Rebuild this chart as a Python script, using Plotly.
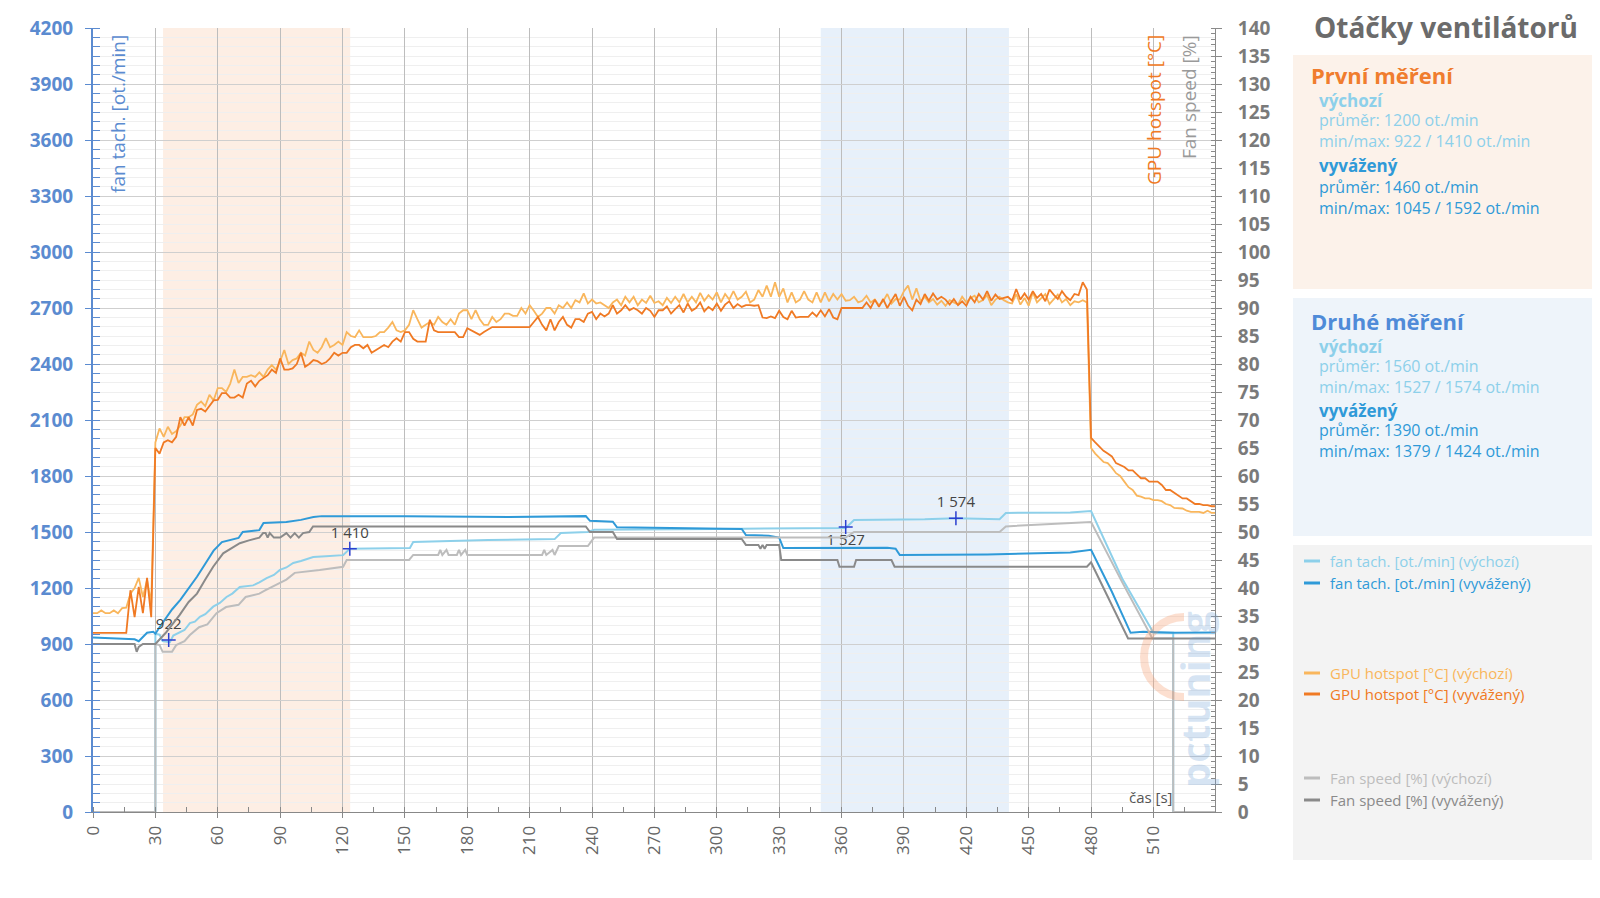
import plotly.graph_objects as go

# ---- data ----
# temperature log, one sample every 2 s (0 .. 540 s)
TIME_2S = list(range(0, 541, 2))

HOT_VYCH = [
    35.5, 35.5, 36, 35.5, 35.5, 36, 35.5, 36.4, 36.5, 39, 40, 41.8, 38.4, 41.4, 37.3,
    66, 68.5, 67, 68.8, 67.5, 68, 69, 70.5, 70.5, 71, 72.7, 73.3, 72.5, 74.5, 73.5,
    75.7, 75.7, 75, 76.5, 79, 76.6, 77.7, 77.7, 78, 77.7, 78.5, 77.7, 79, 79.8, 79,
    80.5, 82.5, 80, 80.7, 81, 82, 81.5, 84, 82.5, 82, 83, 84.6, 83, 83.4, 84,
    83.4, 85.7, 85, 84.8, 86, 84.8, 84.8, 84.8, 85, 85.7, 85.7, 86.5, 87.5, 86, 85.7,
    86, 87, 89.6, 88, 86.5, 87, 87.5, 87, 88.4, 87.5, 87, 88, 87, 89, 89.6,
    89.6, 88, 89.6, 88, 87, 87, 88.4, 87.5, 88, 89, 89, 88.6, 88.6, 90, 89,
    90.5, 89.5, 88.4, 89, 90, 90, 89, 90.5, 90, 91, 90, 91.4, 91, 92.6, 90.8,
    91.5, 90.8, 91, 90.5, 90, 91, 91.5, 90.5, 92, 91, 92, 90.5, 91.5, 90.9, 92.2,
    90.9, 91.2, 90.5, 91.8, 90.9, 92, 91, 92.5, 91, 92, 91, 92.7, 91.3, 92.3, 91.5,
    92.8, 91, 92.5, 91.5, 93, 91.5, 92, 92.9, 91, 91.5, 93.2, 92, 94, 92, 94.6,
    92, 93.5, 91, 92.8, 91, 91.5, 93, 91.5, 91, 92.8, 91, 92.8, 91.2, 92.5, 91.5,
    92.5, 91.3, 91.4, 92, 91, 91.3, 92.2, 91, 91.5, 90.5, 91.2, 92.5, 90.8, 91.6, 91.5,
    93, 94, 91.5, 93.5, 91.2, 92, 91, 91.6, 90.6, 91.3, 90.4, 91.4, 91, 90.6, 92,
    91, 91.8, 92.2, 91, 91.4, 92.3, 90.5, 91.5, 92, 91.4, 91, 90.8, 92.5, 90.6, 91.8,
    90.4, 92.8, 91, 91.8, 92.5, 90.7, 91.5, 92.4, 91, 91.6, 90.5, 91.2, 91, 91.4, 91,
    65, 64, 63.3, 62.5, 62.3, 61.5, 60.5, 60, 59, 58, 57.5, 56.5, 56.3, 56, 56,
    55.7, 55.7, 55.5, 55, 54.8, 54.3, 54.3, 54.2, 53.8, 53.6, 53.6, 53.6, 53.4, 53.8, 53.4,
    53.4,
]

HOT_VYV = [
    32, 32, 32, 32, 32, 32, 32, 32, 32, 39.6, 34.8, 40.2, 35.5, 41.8, 34.8,
    65, 64, 66, 66.4, 66, 67, 70.5, 69, 70.5, 69, 71.8, 72, 71.5, 72.5, 73.5,
    73.6, 74.8, 74.8, 74, 74, 74.5, 74, 76.5, 77, 76, 77, 77.5, 78, 79, 78.4,
    81, 79, 79, 79.2, 80, 82, 79.5, 80, 80.7, 80.5, 80, 80.3, 81, 82, 81.5,
    82, 82, 83, 83.4, 83.4, 82.8, 83.4, 82, 82.5, 83, 83.4, 83, 84, 84.6, 84,
    85.7, 85.7, 84.5, 84, 84, 84, 87.9, 86, 85.7, 85.7, 85.7, 85.7, 85.7, 84.8, 84.8,
    86.4, 86, 85.7, 85.2, 85.7, 86.2, 86.6, 86.6, 86.6, 86.6, 86.6, 86.6, 86.6, 86.6, 86.6,
    86.6, 87.5, 88.4, 87, 86, 88, 86, 87.5, 88.4, 87, 86.5, 88, 88, 87.5, 89,
    89.3, 88, 89, 88.5, 89, 90.5, 89, 89.6, 90.5, 89.6, 90, 89.6, 89, 90, 89.5,
    88.4, 89.6, 89.6, 90.3, 89, 89.8, 90.5, 89.2, 90.8, 89.5, 90, 91, 89.4, 90.2, 89.6,
    90.8, 89.5, 90.6, 91.2, 90, 90.7, 90.2, 90.5, 90.5, 90.4, 90.5, 88.3, 88.2, 88.5, 88.2,
    89.5, 88.4, 88, 89.5, 88.3, 88.4, 88.4, 88.4, 89.2, 88.5, 89.6, 88.5, 89.8, 88.3, 88,
    90, 90, 90, 90, 90, 90, 91, 90, 91.5, 90.2, 91.6, 90, 91.3, 92.5, 90.4,
    92, 90.4, 89.6, 91.5, 90.7, 92.5, 91.3, 92.6, 91.5, 92, 91.5, 90.6, 91.6, 90.5, 91.2,
    90.4, 92, 91, 92.5, 91.5, 93, 91.3, 92.4, 91.6, 91.8, 92, 91.3, 93.4, 91.5, 92.6,
    91.5, 93, 91.8, 92.5, 91.2, 93.3, 92.4, 91.6, 93, 92, 91.4, 92.5, 92.3, 94.6, 93.3,
    66.8, 66, 65.2, 64.5, 64, 63.5, 62.3, 62, 61.6, 61, 61, 60.3, 59.6, 59.6, 59,
    59, 59, 58.4, 57.5, 57.5, 57, 56.5, 56, 56, 55.5, 55, 55, 54.8, 54.8, 54.6,
    54.6,
]

# fan tach [ot./min], (time s, value) break points
FAN_TACH_VYCH = [
    (0, 0), (30, 0), (30, 955), (32, 950), (33.5, 915), (37, 910), (38.6, 945),
    (41.8, 964), (44, 975), (46.6, 1012), (49, 1020), (51.4, 1046), (54, 1060),
    (57.8, 1100), (61, 1120), (64.2, 1152), (67, 1170), (70.6, 1205), (74, 1210),
    (77, 1214), (80, 1230), (83.5, 1253), (87, 1270), (89.9, 1297), (93, 1310),
    (96.3, 1334), (100, 1345), (105.9, 1366), (112, 1370), (120.3, 1376),
    (123.5, 1410), (140, 1414), (152.4, 1414), (154, 1446), (190, 1457),
    (222, 1462), (225, 1495), (238, 1500), (241, 1512), (300, 1516), (330, 1520),
    (362, 1522), (366, 1564), (400, 1568), (415, 1574), (436, 1568), (439, 1602),
    (470, 1605), (480, 1612), (495, 1250), (510, 960), (519.5, 960), (519.5, 0),
    (540, 0),
]
FAN_TACH_VYV = [
    (0, 935), (10, 930), (20, 925), (22, 915), (24, 935), (26, 960), (29, 965),
    (30, 955), (32, 990), (35, 1040), (38, 1085), (42, 1136), (46, 1195),
    (50, 1260), (54, 1330), (58, 1400), (62, 1446), (66, 1455), (70, 1468),
    (72, 1500), (76, 1505), (80, 1510), (82, 1548), (88, 1550), (93, 1553),
    (100, 1565), (106, 1580), (110, 1585), (150, 1585), (200, 1580), (237, 1585),
    (239, 1560), (250, 1555), (252, 1525), (300, 1520), (312, 1516), (314, 1484),
    (325, 1480), (330, 1470), (332, 1414), (382, 1416), (386, 1410), (388, 1377),
    (430, 1380), (470, 1390), (480, 1405), (490, 1180), (499, 960), (505, 965),
    (520, 960), (540, 962),
]

# fan speed [%]
FAN_SPEED_VYCH = [
    (0, 0), (30, 0), (30, 30), (32, 29.8), (33.5, 28.6), (38, 28.6), (40, 29.8),
    (44, 30.5), (46.6, 31.6), (51, 33), (55, 33.5), (59.4, 35.5), (64, 36.6),
    (70, 37), (73.4, 38.4), (80, 39), (83, 39.6), (90, 41), (93, 41.5),
    (97, 42.7), (105, 43), (109, 43.2), (120.3, 43.8), (122, 45), (152, 45),
    (154, 45.9), (166, 45.9), (167, 46.8), (168, 45.9), (170, 46.8), (171, 45.9),
    (175, 45.9), (176, 46.8), (177, 45.9), (179, 46.8), (180, 45.9), (216, 45.9),
    (217, 46.8), (218, 45.9), (221, 46.8), (222, 45.9), (224, 47.5), (238, 47.5),
    (241, 49), (362, 49), (366, 50), (436, 50), (439, 51), (480, 51.8),
    (495, 41), (509.5, 31), (519.5, 31), (519.5, 0), (540, 0),
]
FAN_SPEED_VYV = [
    (0, 30), (20, 30), (21, 28.6), (22, 29.5), (24, 30), (30, 30), (35, 32),
    (41.7, 35.2), (46, 37.5), (50, 39), (54, 41.5), (57.8, 43.8), (62.6, 46.2),
    (66, 47), (70.6, 48), (75, 48.5), (80, 49), (81.8, 49.8), (83, 49.8),
    (84, 49), (85, 49.8), (87, 49), (90, 49), (93, 49.8), (95, 49), (97, 49.8),
    (99, 49), (101, 49.8), (104, 50), (105.8, 51), (237, 51), (239, 50),
    (250, 50), (252, 48.75), (312, 48.75), (314, 47.7), (320, 47.7), (321, 47),
    (322, 47.7), (323, 47), (324, 47.7), (330, 47.7), (331, 45), (358, 45),
    (359, 43.8), (366, 43.8), (367, 45), (384, 45), (385.5, 43.8), (478, 43.8),
    (480, 44.6), (481, 43.8), (497.8, 31), (540, 31),
]

# min / max markers of the "výchozí" fan tach
MARK_T = [36.4, 123.5, 362, 415]
MARK_V = [922, 1410, 1527, 1574]
MARK_TXT = ["922", "1 410", "1 527", "1 574"]
MARK_POS = ["top center", "top center", "bottom center", "top center"]

# highlighted measuring windows (s)
WIN_FIRST = (33.7, 123.7)
WIN_SECOND = (350, 440.5)

# ---- style ----
FONT = "Open Sans, Roboto, Arial, sans-serif"
BLUE_AX = "#5b8bd0"
C_TACH_VYCH = "#8dd0ea"
C_TACH_VYV = "#2f9ad8"
C_HOT_VYCH = "#f9b65c"
C_HOT_VYV = "#f07a24"
C_SPD_VYCH = "#bdbdbd"
C_SPD_VYV = "#8a8a8a"

L, R, T, B = 93, 1215, 28, 812


def px(X):
    return (X - L) / (R - L)


def py(Y):
    return (B - Y) / (B - T)


def xy(pairs):
    return [p[0] for p in pairs], [p[1] for p in pairs]


fig = go.Figure()

for pairs, col, yax in [
    (FAN_SPEED_VYCH, C_SPD_VYCH, "y2"),
    (FAN_SPEED_VYV, C_SPD_VYV, "y2"),
    (FAN_TACH_VYCH, C_TACH_VYCH, "y"),
    (FAN_TACH_VYV, C_TACH_VYV, "y"),
]:
    xs, ys = xy(pairs)
    fig.add_trace(go.Scatter(x=xs, y=ys, mode="lines", yaxis=yax,
                             line=dict(color=col, width=2), hoverinfo="skip"))

fig.add_trace(go.Scatter(x=TIME_2S, y=HOT_VYCH, mode="lines", yaxis="y2",
                         line=dict(color=C_HOT_VYCH, width=1.8), hoverinfo="skip"))
fig.add_trace(go.Scatter(x=TIME_2S, y=HOT_VYV, mode="lines", yaxis="y2",
                         line=dict(color=C_HOT_VYV, width=1.8), hoverinfo="skip"))

fig.add_trace(go.Scatter(
    x=MARK_T, y=MARK_V, mode="markers+text", text=MARK_TXT, textposition=MARK_POS,
    marker=dict(symbol="cross-thin", size=10, line=dict(color="#2a3fd0", width=1.5)),
    textfont=dict(size=15, color="#444444", family=FONT), hoverinfo="skip",
))

shapes = []
anns = []

# measuring windows
for (x0, x1), col in [(WIN_FIRST, "#fdeee4"), (WIN_SECOND, "#e7f0fa")]:
    shapes.append(dict(type="rect", xref="x", yref="paper", x0=x0, x1=x1, y0=0, y1=1,
                       fillcolor=col, line_width=0, layer="below"))

# right-hand panels
for y0, y1, col in [(55, 289, "#fcf2ea"), (298, 536, "#eef4fa"), (545, 860, "#f3f3f3")]:
    shapes.append(dict(type="rect", xref="paper", yref="paper", x0=px(1293), x1=px(1592),
                       y0=py(y1), y1=py(y0), fillcolor=col, line_width=0, layer="below"))

# watermark ring (left half), pixel geometry converted to paper coords
cx, cy, r, k = 1184, 657, 40, 0.5523 * 40
ring = [(cx, cy - r), (cx - k, cy - r), (cx - r, cy - k), (cx - r, cy),
        (cx - r, cy + k), (cx - k, cy + r), (cx, cy + r)]
ring = [(px(a), py(b)) for a, b in ring]
path = "M {0[0]},{0[1]} C {1[0]},{1[1]} {2[0]},{2[1]} {3[0]},{3[1]} C {4[0]},{4[1]} {5[0]},{5[1]} {6[0]},{6[1]}".format(*ring)
shapes.append(dict(type="path", xref="paper", yref="paper", path=path,
                   line=dict(color="rgba(245,150,100,0.30)", width=8)))


def txt(X, Y, s, size, color, bold=False, anchor="left", angle=0, yanchor="middle"):
    anns.append(dict(xref="paper", yref="paper", x=px(X), y=py(Y), text=s, showarrow=False,
                     xanchor=anchor, yanchor=yanchor, textangle=angle,
                     font=dict(family=FONT, size=size, color=color,
                               weight="bold" if bold else "normal")))


# faint watermark
txt(1194, 700, "pctuning", 40, "rgba(110,160,215,0.28)", bold=True, anchor="center", angle=-90)

txt(1446, 27, "Otáčky ventilátorů", 28, "#6b6b6b", bold=True, anchor="center")

txt(1309, 75, "První měření", 22, "#f07d2e", bold=True)
txt(1317, 100, "výchozí", 17, C_TACH_VYCH, bold=True)
txt(1317, 120, "průměr: 1200 ot./min", 16, C_TACH_VYCH)
txt(1317, 141, "min/max: 922 / 1410 ot./min", 16, C_TACH_VYCH)
txt(1317, 166, "vyvážený", 17, C_TACH_VYV, bold=True)
txt(1317, 187, "průměr: 1460 ot./min", 16, C_TACH_VYV)
txt(1317, 208, "min/max: 1045 / 1592 ot./min", 16, C_TACH_VYV)

txt(1309, 321, "Druhé měření", 22, "#4f8bd8", bold=True)
txt(1317, 346, "výchozí", 17, C_TACH_VYCH, bold=True)
txt(1317, 366, "průměr: 1560 ot./min", 16, C_TACH_VYCH)
txt(1317, 387, "min/max: 1527 / 1574 ot./min", 16, C_TACH_VYCH)
txt(1317, 410, "vyvážený", 17, C_TACH_VYV, bold=True)
txt(1317, 430, "průměr: 1390 ot./min", 16, C_TACH_VYV)
txt(1317, 451, "min/max: 1379 / 1424 ot./min", 16, C_TACH_VYV)

# legend
for Y, name, col in [
    (561, "fan tach. [ot./min] (výchozí)", C_TACH_VYCH),
    (583, "fan tach. [ot./min] (vyvážený)", C_TACH_VYV),
    (673, "GPU hotspot [°C] (výchozí)", C_HOT_VYCH),
    (694, "GPU hotspot [°C] (vyvážený)", C_HOT_VYV),
    (778, "Fan speed [%] (výchozí)", C_SPD_VYCH),
    (800, "Fan speed [%] (vyvážený)", C_SPD_VYV),
]:
    shapes.append(dict(type="line", xref="paper", yref="paper", x0=px(1304), x1=px(1320),
                       y0=py(Y), y1=py(Y), line=dict(color=col, width=3)))
    txt(1328, Y, name, 15, col)

# axis titles inside the plot
txt(118, 33, "fan tach. [ot./min]", 19, BLUE_AX, anchor="center", angle=-90, yanchor="top")
txt(1154, 33, "GPU hotspot [°C]", 19, C_HOT_VYV, anchor="center", angle=-90, yanchor="top")
txt(1189, 33, "Fan speed [%]", 19, "#9a9a9a", anchor="center", angle=-90, yanchor="top")
txt(1151, 797, "čas [s]", 15, "#555555", anchor="center")

fig.update_layout(
    width=1600, height=898,
    margin=dict(l=L, r=1600 - R, t=T, b=898 - B, autoexpand=False),
    paper_bgcolor="#ffffff", plot_bgcolor="#ffffff",
    showlegend=False,
    font=dict(family=FONT),
    shapes=shapes, annotations=anns,
    xaxis=dict(
        range=[0, 539.6], tick0=0, dtick=30, tickangle=-90,
        showgrid=True, gridcolor="#bdbdbd", gridwidth=1, zeroline=False,
        showline=True, linecolor="#888888", linewidth=1,
        ticks="outside", ticklen=5, tickcolor="#888888",
        tickfont=dict(size=17, color="#666666"), ticklabelstandoff=1,
        minor=dict(dtick=15, ticks="inside", ticklen=5, tickcolor="#888888", showgrid=False),
    ),
    yaxis=dict(
        range=[0, 4200], tick0=0, dtick=300,
        showgrid=True, gridcolor="#cfcfcf", zeroline=False,
        showline=True, linecolor=BLUE_AX, linewidth=2,
        ticks="outside", ticklen=6, tickcolor=BLUE_AX,
        tickfont=dict(size=19, color=BLUE_AX, weight="bold"), ticklabelstandoff=8,
        minor=dict(dtick=50, ticks="inside", ticklen=7, tickcolor=BLUE_AX,
                   showgrid=True, gridcolor="#efefef"),
    ),
    yaxis2=dict(
        overlaying="y", side="right", range=[0, 140], tick0=0, dtick=5,
        showgrid=False, zeroline=False,
        showline=True, linecolor="#8a8a8a", linewidth=1,
        ticks="outside", ticklen=6, tickcolor="#8a8a8a",
        tickfont=dict(size=19, color="#7a7a7a", weight="bold"), ticklabelstandoff=12,
        minor=dict(dtick=1, ticks="inside", ticklen=4, tickcolor="#8a8a8a"),
    ),
    yaxis3=dict(
        overlaying="y", side="left", range=[0, 4200], tick0=0, dtick=300,
        showgrid=False, zeroline=False, showticklabels=False,
        ticks="inside", ticklen=7, tickcolor=BLUE_AX,
    ),
    yaxis4=dict(
        overlaying="y", side="right", range=[0, 140], tick0=0, dtick=5,
        showgrid=False, zeroline=False, showticklabels=False,
        ticks="inside", ticklen=6, tickcolor="#8a8a8a",
    ),
)

fig.write_html("out.html", config={"displayModeBar": False},
               post_script="document.body.style.margin='0';")
